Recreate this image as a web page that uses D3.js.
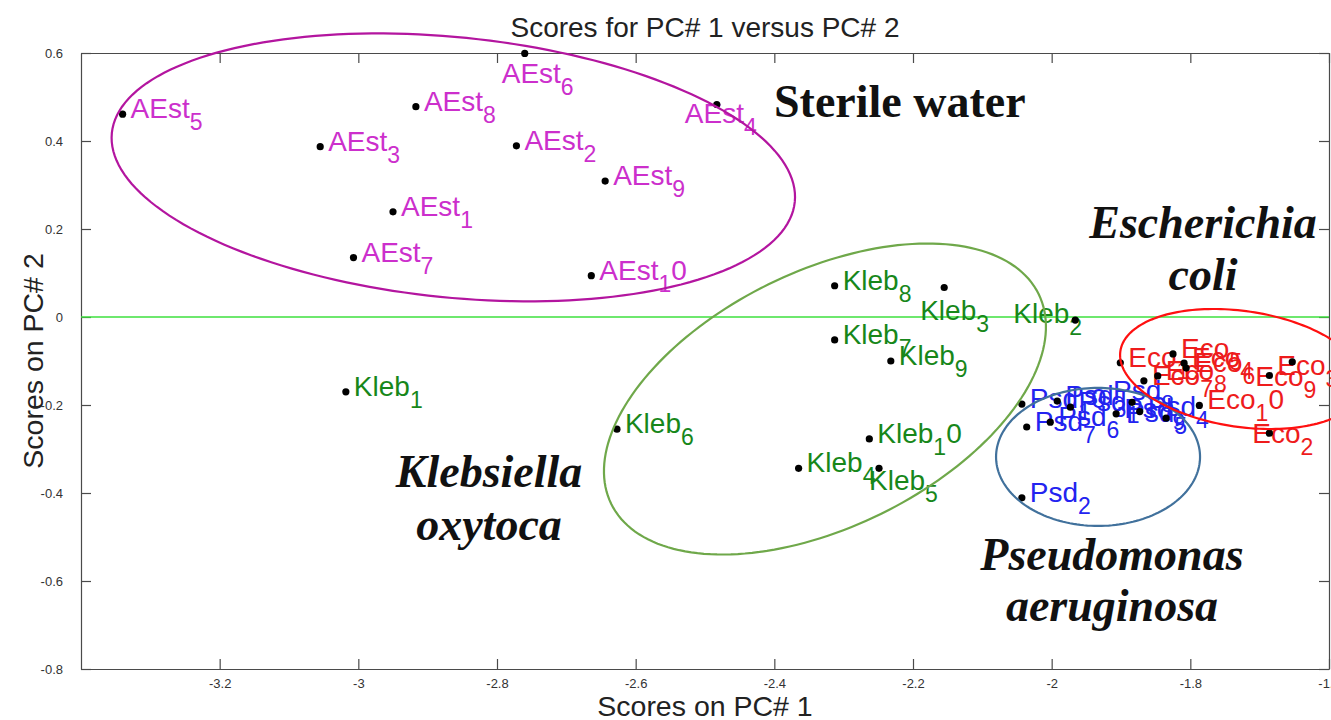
<!DOCTYPE html>
<html>
<head>
<meta charset="utf-8">
<script src="https://cdn.jsdelivr.net/npm/d3@7"></script>
<style>
  html, body { margin: 0; padding: 0; background: #fff; }
  svg { display: block; }
</style>
</head>
<body>
<svg id="chart" width="1331" height="720"></svg>
<script>
// PCA scores (PC1, PC2) for each sample group, samples 1..10
const sterileX = [-2.950, -2.772, -3.055, -2.483, -3.340, -2.760, -3.007, -2.917, -2.644, -2.664];
const sterileY = [ 0.239,  0.389,  0.387,  0.483,  0.461,  0.599,  0.135,  0.478,  0.309,  0.094];

const klebX = [-3.018, -1.966, -2.155, -2.365, -2.249, -2.627, -2.313, -2.313, -2.232, -2.263];
const klebY = [-0.170, -0.007,  0.067, -0.344, -0.344, -0.255, -0.052,  0.071, -0.100, -0.277];

const psdX = [-1.973, -2.043, -1.992, -1.873, -1.835, -2.002, -2.036, -1.884, -1.907, -2.043];
const psdY = [-0.205, -0.411, -0.191, -0.215, -0.230, -0.239, -0.250, -0.194, -0.220, -0.198];

const ecoX = [-1.901, -1.686, -1.653, -1.809, -1.825, -1.806, -1.867, -1.847, -1.686, -1.787];
const ecoY = [-0.104, -0.264, -0.102, -0.105, -0.084, -0.116, -0.145, -0.134, -0.133, -0.201];

// Sample name prefixes
const groupNames = ["AEst", "Kleb", "Psd", "Eco"];

// Axis ticks
const xTicks = [-3.2, -3, -2.8, -2.6, -2.4, -2.2, -2, -1.8, -1.6];
const xTickLabels = ["-3.2", "-3", "-2.8", "-2.6", "-2.4", "-2.2", "-2", "-1.8", "-1.6"];
const yTicks = [0.6, 0.4, 0.2, 0, -0.2, -0.4, -0.6, -0.8];
const yTickLabels = ["0.6", "0.4", "0.2", "0", "-0.2", "-0.4", "-0.6", "-0.8"];

// Group ellipses: centre (PC1, PC2) and two semi-axis vectors, in score units
const sterileEllipse = [-2.863,  0.340, 0.4925, -0.0784, -0.01887, -0.2942];
const klebEllipse    = [-2.327, -0.1864, 0.3082, 0.2386, 0.0813, -0.2607];
const psdEllipse     = [-1.9331, -0.318, 0.1471, 0.0, 0.0, -0.1568];
const ecoEllipse     = [-1.7254, -0.1182, 0.1755, -0.04075, -0.01217, -0.1302];

// Group captions: text lines, anchor PC1, baseline PC2 of each line
const captionLines = [["Sterile water"], ["Escherichia", "coli"], ["Klebsiella", "oxytoca"], ["Pseudomonas", "aeruginosa"]];
const captionX = [-2.219, -1.7817, -2.8115, -1.913];
const captionY = [[0.455], [0.1795, 0.0614], [-0.386, -0.507], [-0.575, -0.691]];

// ---------------------------------------------------------------
const W = 1331, H = 720;
const plot = { left: 81, right: 1329, top: 53, bottom: 669 };

const x = d3.scaleLinear().domain([-3.4, -1.6]).range([plot.left, plot.right]);
const y = d3.scaleLinear().domain([-0.8, 0.6]).range([plot.bottom, plot.top]);

const svg = d3.select("#chart");
svg.append("rect").attr("width", W).attr("height", H).attr("fill", "#fff");

const sansFont = "'Liberation Sans', Arial, sans-serif";
const serifFont = "'Liberation Serif', 'Times New Roman', serif";

// Axes with inward ticks on all four sides
const axisColor = "#4a4a4a";
function styleAxis(g) {
  g.selectAll("path").attr("stroke", axisColor).attr("stroke-width", 1.2);
  g.selectAll("line").attr("stroke", axisColor).attr("stroke-width", 1.2);
  g.selectAll("text").attr("fill", "#333").attr("font-family", sansFont).attr("font-size", 13);
}

svg.append("g")
  .attr("transform", `translate(0,${plot.bottom})`)
  .call(d3.axisBottom(x).tickValues(xTicks).tickFormat((d, i) => xTickLabels[i])
    .tickSizeInner(-10).tickSizeOuter(0).tickPadding(10))
  .call(styleAxis);

svg.append("g")
  .attr("transform", `translate(0,${plot.top})`)
  .call(d3.axisTop(x).tickValues(xTicks).tickFormat("")
    .tickSizeInner(-10).tickSizeOuter(0))
  .call(styleAxis);

svg.append("g")
  .attr("transform", `translate(${plot.left},0)`)
  .call(d3.axisLeft(y).tickValues(yTicks).tickFormat((d, i) => yTickLabels[i])
    .tickSizeInner(-10).tickSizeOuter(0).tickPadding(18))
  .call(styleAxis);

svg.append("g")
  .attr("transform", `translate(${plot.right},0)`)
  .call(d3.axisRight(y).tickValues(yTicks).tickFormat("")
    .tickSizeInner(-10).tickSizeOuter(0))
  .call(styleAxis);

// Zero line of PC2
svg.append("line")
  .attr("x1", x(-3.4)).attr("x2", x(-1.6))
  .attr("y1", y(0)).attr("y2", y(0))
  .attr("stroke", "#3ee03e").attr("stroke-width", 1.3);

// Title and axis labels
svg.append("text")
  .attr("x", (plot.left + plot.right) / 2).attr("y", 37)
  .attr("text-anchor", "middle")
  .attr("font-family", sansFont).attr("font-size", 28).attr("fill", "#222")
  .text("Scores for PC# 1 versus PC# 2");

svg.append("text")
  .attr("x", (plot.left + plot.right) / 2).attr("y", 716)
  .attr("text-anchor", "middle")
  .attr("font-family", sansFont).attr("font-size", 28.5).attr("fill", "#222")
  .text("Scores on PC# 1");

svg.append("text")
  .attr("transform", `translate(43,${(plot.top + plot.bottom) / 2}) rotate(-90)`)
  .attr("text-anchor", "middle")
  .attr("font-family", sansFont).attr("font-size", 28.5).attr("fill", "#222")
  .text("Scores on PC# 2");

// Sample points and labels
const groups = [
  { name: groupNames[0], xs: sterileX, ys: sterileY, color: "#cc2fcc" },
  { name: groupNames[1], xs: klebX, ys: klebY, color: "#17871a" },
  { name: groupNames[2], xs: psdX, ys: psdY, color: "#2323f0" },
  { name: groupNames[3], xs: ecoX, ys: ecoY, color: "#ee1c1c" }
];

// label start offset and baseline offset (px) from the point; some labels were placed by hand
const labelDefault = [8, 4];
const labelNudge = {
  "AEst6": [-23, 30], "AEst4": [-32, 19],
  "Kleb3": [-24, 32], "Kleb2": [-62, 3], "Kleb5": [-10, 22],
  "Psd5": [-40, 4], "Psd8": [-19, -2],
  "Eco2": [-17, 10], "Eco3": [-15, 13], "Eco9": [-14, 10]
};

const labelLayer = svg.append("g");
const dotLayer = svg.append("g");

groups.forEach(g => {
  g.xs.forEach((v, i) => {
    const n = i + 1;
    const px = x(v), py = y(g.ys[i]);
    const off = labelNudge[g.name + n] || labelDefault;
    const t = labelLayer.append("text")
      .attr("x", px + off[0]).attr("y", py + off[1])
      .attr("font-family", sansFont).attr("font-size", 28)
      .attr("fill", g.color);
    t.append("tspan").text(g.name);
    const digits = String(n);
    // only the first digit is lowered, the rest sits on the baseline
    t.append("tspan").attr("dy", 12).attr("font-size", 23).text(digits[0]);
    if (digits.length > 1) {
      t.append("tspan").attr("dy", -12).text(digits.slice(1));
    }
    dotLayer.append("circle")
      .attr("cx", px).attr("cy", py).attr("r", 3.6)
      .attr("fill", "#000");
  });
});

// Group ellipses
function ellipsePath(e) {
  const pts = d3.range(0, 361, 2).map(a => {
    const t = a * Math.PI / 180;
    return [x(e[0] + Math.cos(t) * e[2] + Math.sin(t) * e[4]),
            y(e[1] + Math.cos(t) * e[3] + Math.sin(t) * e[5])];
  });
  return d3.line()(pts);
}
const ellipses = [
  { e: sterileEllipse, color: "#b3159f" },
  { e: klebEllipse, color: "#6fa84a" },
  { e: psdEllipse, color: "#41719c" },
  { e: ecoEllipse, color: "#ff1010" }
];
svg.append("g").selectAll("path").data(ellipses).join("path")
  .attr("d", d => ellipsePath(d.e))
  .attr("fill", "none")
  .attr("stroke", d => d.color)
  .attr("stroke-width", 2.2);

// Group captions
captionLines.forEach((lines, i) => {
  lines.forEach((line, j) => {
    svg.append("text")
      .attr("x", x(captionX[i])).attr("y", y(captionY[i][j]))
      .attr("text-anchor", "middle")
      .attr("font-family", serifFont).attr("font-size", 46)
      .attr("font-weight", "bold")
      .attr("font-style", i === 0 ? "normal" : "italic")
      .attr("fill", "#111")
      .text(line);
  });
});
</script>
</body>
</html>
